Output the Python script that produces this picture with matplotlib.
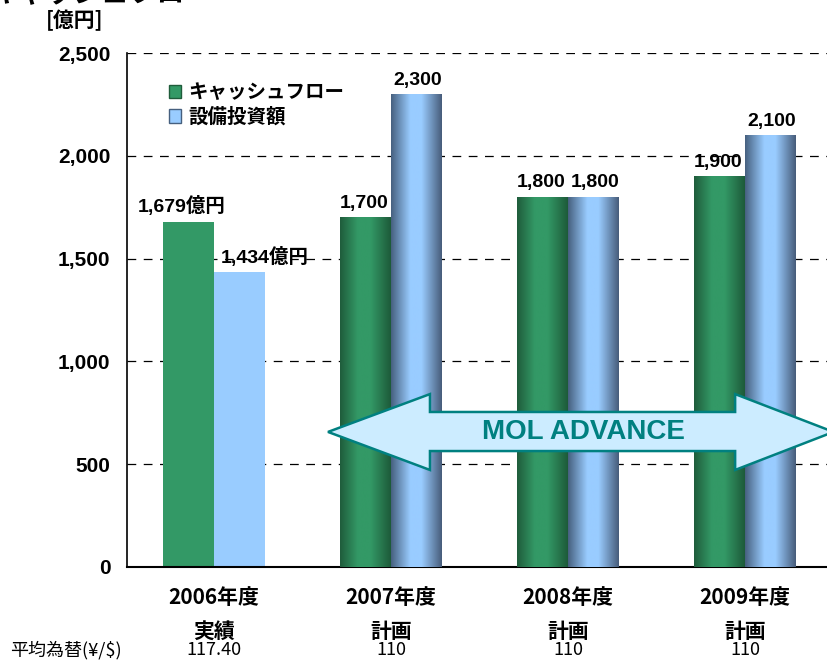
import matplotlib
matplotlib.use("Agg")
import matplotlib.pyplot as plt
import numpy as np
from matplotlib.colors import LinearSegmentedColormap
from matplotlib.patches import Polygon, Patch
from matplotlib.transforms import blended_transform_factory

plt.rcParams['font.family'] = ['Noto Sans CJK JP', 'DejaVu Sans']

years = ['2006年度', '2007年度', '2008年度', '2009年度']
kinds = ['実績', '計画', '計画', '計画']
fx_rates = ['117.40', '110', '110', '110']
cash_flow = [1679, 1700, 1800, 1900]
capex = [1434, 2300, 1800, 2100]
cash_labels = ['1,679億円', '1,700', '1,800', '1,900']
capex_labels = ['1,434億円', '2,300', '1,800', '2,100']

green = '#339966'
blue = '#99ccff'
green_cm = LinearSegmentedColormap.from_list(
    'g', [(0, '#1f5c3b'), (0.35, '#339966'), (0.6, '#339966'), (1, '#1d5a39')])
blue_cm = LinearSegmentedColormap.from_list(
    'b', [(0, '#46607f'), (0.38, '#99ccff'), (0.6, '#99ccff'), (1, '#475c7a')])

fig = plt.figure(figsize=(8.27, 6.60), dpi=100)
ax = fig.add_axes([127 / 827, 93 / 660, 700 / 827, 514 / 660])

x = np.arange(len(years))
w = 0.288
bars_g = ax.bar(x - w / 2, cash_flow, w, color=green, zorder=2)
bars_b = ax.bar(x + w / 2, capex, w, color=blue, zorder=2)

# cylinder shading on the plan bars
grad = np.linspace(0, 1, 256).reshape(1, -1)
for bars, cm in [(bars_g, green_cm), (bars_b, blue_cm)]:
    for p in bars.patches[1:]:
        x0, y0 = p.get_x(), p.get_y()
        im = ax.imshow(grad, cmap=cm, aspect='auto', zorder=3,
                       extent=[x0, x0 + p.get_width(), y0, y0 + p.get_height()])
        im.set_clip_path(p)

ax.set_xlim(-0.4915, 3.463)
ax.set_ylim(0, 2500)
ax.set_yticks(range(0, 2501, 500))
ax.set_yticklabels([f'{v:,}' for v in range(0, 2501, 500)],
                   fontsize=15, fontweight='bold', family=['Liberation Sans'])
ax.tick_params(axis='y', length=0, pad=12)
ax.set_xticks([])
ax.yaxis.grid(True, color='black', linestyle=(0, (7, 6)), linewidth=0.9)
ax.set_axisbelow(True)
for s in ['top', 'right']:
    ax.spines[s].set_visible(False)
ax.spines['left'].set_linewidth(1.2)
ax.spines['bottom'].set_linewidth(1.5)

# value labels
lab_font = ['Liberation Sans', 'Noto Sans CJK JP']
for i in range(len(years)):
    dx_g = -5 if i == 0 else -1
    dx_b = 18 if i == 0 else 1
    ax.annotate(cash_labels[i], (x[i] - w / 2, cash_flow[i]), xytext=(dx_g, 4),
                textcoords='offset points', ha='center', va='bottom',
                fontsize=14, fontweight='bold', family=lab_font, zorder=5)
    ax.annotate(capex_labels[i], (x[i] + w / 2, capex[i]), xytext=(dx_b, 4),
                textcoords='offset points', ha='center', va='bottom',
                fontsize=14, fontweight='bold', family=lab_font, zorder=5)

# category labels below axis
tr = blended_transform_factory(ax.transData, fig.transFigure)
for i in range(len(years)):
    ax.text(x[i], 1 - 597 / 660, years[i], transform=tr, ha='center', va='center',
            fontsize=15, fontweight='bold')
    ax.text(x[i], 1 - 631 / 660, kinds[i], transform=tr, ha='center', va='center',
            fontsize=15, fontweight='bold')
    ax.text(x[i], 1 - 650 / 660, fx_rates[i], transform=tr, ha='center', va='center',
            fontsize=13)
fig.text(10 / 827, 1 - 650 / 660, '平均為替(¥/$)', ha='left', va='center', fontsize=13)

# MOL ADVANCE double arrow
arrow = Polygon([(0.644, 657), (1.22, 841), (1.22, 754), (2.944, 754), (2.944, 841),
                 (3.5, 657), (2.944, 472), (2.944, 564), (1.22, 564), (1.22, 472)],
                closed=True, facecolor='#ccecff', edgecolor='#008080', linewidth=1.8,
                zorder=6, clip_on=False)
ax.add_patch(arrow)
ax.text(2.085, 657, 'MOL ADVANCE', ha='center', va='center', color='#008080',
        fontsize=20, fontweight='bold', family=['Liberation Sans'], zorder=7)

# legend
handles = [Patch(facecolor=green, edgecolor='#1f5c3b'),
           Patch(facecolor=blue, edgecolor='#46607f')]
ax.legend(handles, ['キャッシュフロー', '設備投資額'], loc='upper left',
          bbox_to_anchor=(0.035, 0.975), frameon=False, handlelength=0.6,
          handleheight=0.7, handletextpad=0.4, labelspacing=0.25,
          prop={'size': 14, 'weight': 'bold'})

fig.text(75 / 827, 1 - 20 / 660, '[億円]', ha='center', va='center',
         fontsize=15, fontweight='bold')
fig.text(-0.012, 1 + 6 / 660, 'キャッシュフロー', ha='left', va='center',
         fontsize=20, fontweight='bold')

fig.savefig('out.png', dpi=100)
